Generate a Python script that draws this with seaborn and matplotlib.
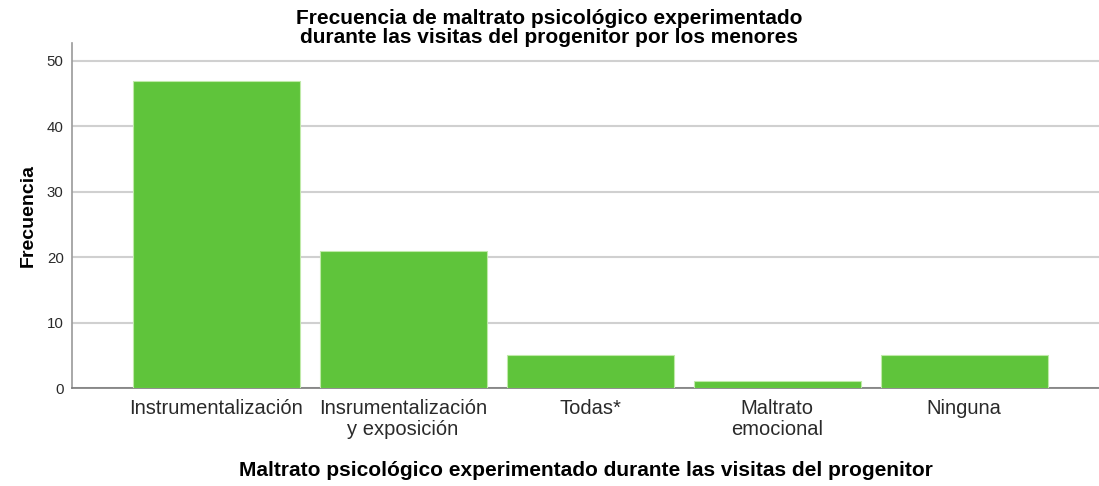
import matplotlib
matplotlib.use("Agg")
import matplotlib.pyplot as plt
import seaborn as sns
import pandas as pd

categories = ["Instrumentalización", "Insrumentalización\ny exposición", "Todas*",
              "Maltrato\nemocional", "Ninguna"]
frecuencias = [47, 21, 5, 1, 5]
y_ticks = [0, 10, 20, 30, 40, 50]

sns.set_theme(style="white")
plt.rcParams['font.family'] = ['Liberation Sans', 'DejaVu Sans']

df = pd.DataFrame({"cat": categories, "freq": frecuencias})

fig = plt.figure(figsize=(10.99, 4.86), dpi=100)
ax = fig.add_axes([0.0655, 0.2016, 0.9345, 0.7099])

sns.barplot(data=df, x="cat", y="freq", ax=ax, color="#5fc43b", width=0.893,
            edgecolor="#bfeaa8", linewidth=0.8, saturation=1, zorder=3)

ax.set_xlim(-0.77, 4.72)
ax.set_ylim(0, 52.75)
ax.set_yticks(y_ticks)
ax.yaxis.grid(True, color="#d0d0d0", linewidth=1.5, zorder=0)
ax.set_axisbelow(True)
for s in ["top", "right"]:
    ax.spines[s].set_visible(False)
ax.spines["left"].set_color("#9a9a9a")
ax.spines["bottom"].set_color("#7a7a7a")
ax.spines["left"].set_linewidth(1.2)
ax.spines["bottom"].set_linewidth(1.2)
ax.tick_params(axis="x", length=0, labelsize=14.5, labelcolor="#2a2a2a", pad=8)
ax.tick_params(axis="y", length=0, labelsize=10.8, labelcolor="#2a2a2a", pad=6)
for lbl in ax.get_xticklabels():
    lbl.set_linespacing(1.1)

ax.set_ylabel("Frecuencia", fontsize=14, fontweight="bold", color="black", labelpad=7)
ax.set_xlabel("Maltrato psicológico experimentado durante las visitas del progenitor",
              fontsize=15, fontweight="bold", color="black", labelpad=16)
fig.text(0.5, 0.982, "Frecuencia de maltrato psicológico experimentado\ndurante las visitas del progenitor por los menores",
         ha="center", va="top", fontsize=15, fontweight="bold", color="black", linespacing=1.05)

fig.savefig("out.png", dpi=100)
